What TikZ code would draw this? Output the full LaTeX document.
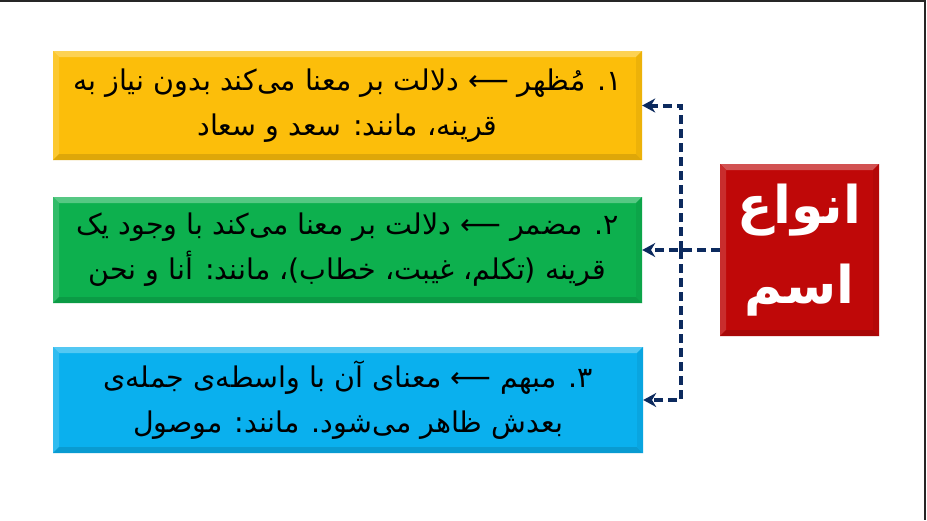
\documentclass[tikz,border=0pt]{standalone}
\usepackage{fontspec}
\usetikzlibrary{arrows.meta}
\TeXXeTstate=1
\newfontfamily\fa[Script=Arabic]{DejaVu Sans}
\definecolor{pgold}{HTML}{FCBE0A}
\definecolor{pgreen}{HTML}{0DB04E}
\definecolor{pblue}{HTML}{0AB0EE}
\definecolor{pred}{HTML}{BF0808}
\definecolor{pnavy}{HTML}{0C2A5E}
\tikzset{
  bevel/.style={fill=#1, inner sep=0pt, path picture={
    \fill[#1!70!white] (path picture bounding box.north west) -- (path picture bounding box.north east)
      -- ([shift={(-6pt,-6pt)}]path picture bounding box.north east) -- ([shift={(6pt,-6pt)}]path picture bounding box.north west) -- cycle;
    \fill[#1!85!white] (path picture bounding box.north west) -- ([shift={(6pt,-6pt)}]path picture bounding box.north west)
      -- ([shift={(6pt,6pt)}]path picture bounding box.south west) -- (path picture bounding box.south west) -- cycle;
    \fill[#1!88!black] (path picture bounding box.south west) -- (path picture bounding box.south east)
      -- ([shift={(-6pt,6pt)}]path picture bounding box.south east) -- ([shift={(6pt,6pt)}]path picture bounding box.south west) -- cycle;
    \fill[#1!94!black] (path picture bounding box.north east) -- (path picture bounding box.south east)
      -- ([shift={(-6pt,6pt)}]path picture bounding box.south east) -- ([shift={(-6pt,-6pt)}]path picture bounding box.north east) -- cycle;
  }},
  itembox/.style={bevel=#1, align=center, font=\fa\fontsize{28.5}{45}\selectfont, text=black},
  conn/.style={draw=pnavy, line width=4pt, dash pattern=on 9pt off 5pt, -{Stealth[length=13pt,width=14pt]}},
}
\begin{document}
\begin{tikzpicture}[x=1pt,y=-1pt]
\useasboundingbox (0,0) rectangle (927,520);
\fill[white] (0,0) rectangle (927,520);
\draw[line width=1.5pt, color=black!85] (0,0.75) -- (925,0.75) -- (925,520);

\node[itembox=pgold, minimum width=589pt, minimum height=109pt] (Y) at (347.5,105.5)
 {\beginR ۱. مُظهر ⟵ دلالت بر معنا می‌کند بدون نیاز به\endR\\ \beginR قرینه، مانند: سعد و سعاد\endR};
\node[itembox=pgreen, minimum width=589pt, minimum height=106pt] (G) at (347.5,250)
 {\beginR ۲. مضمر ⟵ دلالت بر معنا می‌کند با وجود یک\endR\\ \beginR قرینه (تکلم، غیبت، خطاب)، مانند: أنا و نحن\endR};
\node[itembox=pblue, minimum width=590pt, minimum height=106pt] (B) at (348,400)
 {\beginR ۳. مبهم ⟵ معنای آن با واسطه‌ی جمله‌ی\endR\\ \beginR بعدش ظاهر می‌شود. مانند: موصول\endR};

\node[bevel=pred, minimum width=159pt, minimum height=172pt, align=center, text=white,
      font=\fa\bfseries\fontsize{52}{80}\selectfont] (R) at (799.5,250)
 {\beginR انواع\endR\\ \beginR اسم\endR};

\coordinate (J) at (681,250);
\draw[conn] (R.west) -- (G.east);
\draw[conn] (J) |- (Y.east);
\draw[conn] (J) |- (B.east);
\end{tikzpicture}
\end{document}
